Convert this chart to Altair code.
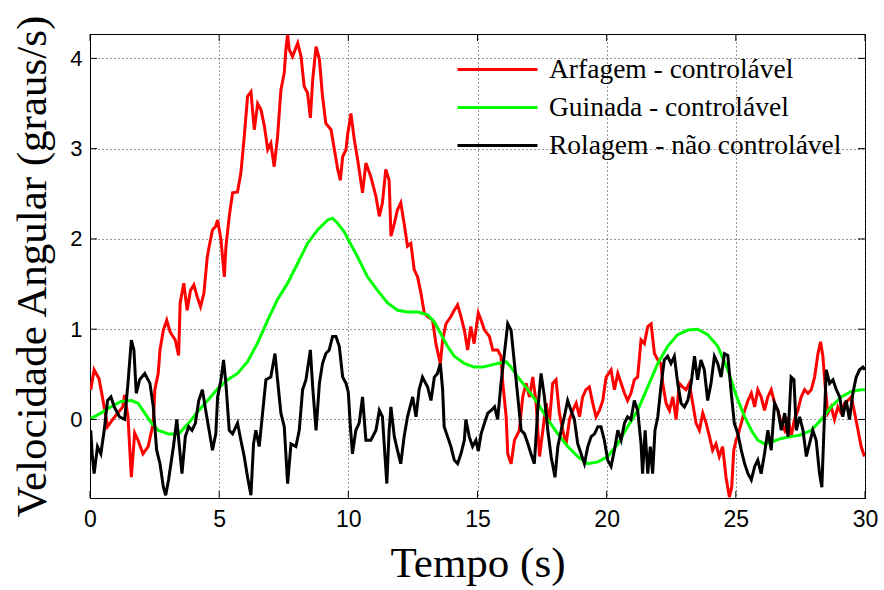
import altair as alt
import pandas as pd

# ---- data ----
serie_names = ["Arfagem - controlável", "Guinada - controlável", "Rolagem - não controlável"]
serie_colors = ["#ff0000", "#00ff00", "#000000"]
x_ticks = [0, 5, 10, 15, 20, 25, 30]
y_ticks = [0, 1, 2, 3, 4]

t_arfagem = [0.03, 0.16, 0.35, 0.48, 0.68, 0.88, 1.07, 1.27, 1.34, 1.47, 1.6, 1.73, 1.86, 2.05, 2.25, 2.45,
             2.51, 2.64, 2.71, 2.84, 2.97, 3.1, 3.3, 3.43, 3.49, 3.63, 3.76, 3.89, 4.02, 4.15, 4.28, 4.41,
             4.54, 4.61, 4.74, 4.87, 4.94, 5.07, 5.2, 5.26, 5.39, 5.52, 5.71, 5.84, 5.97, 6.1, 6.23, 6.36,
             6.49, 6.62, 6.75, 6.88, 7.0, 7.13, 7.26, 7.39, 7.52, 7.59, 7.65, 7.71, 7.84, 8.04, 8.17, 8.29,
             8.42, 8.53, 8.62, 8.75, 8.88, 9.0, 9.13, 9.33, 9.46, 9.59, 9.69, 9.78, 9.91, 9.97, 10.1, 10.23,
             10.36, 10.55, 10.68, 10.87, 11.07, 11.2, 11.32, 11.45, 11.58, 11.65, 11.78, 11.9, 12.03, 12.16,
             12.29, 12.42, 12.55, 12.68, 12.81, 12.94, 13.07, 13.26, 13.39, 13.56, 13.65, 13.78, 13.97, 14.1,
             14.23, 14.36, 14.49, 14.62, 14.74, 14.87, 15.03, 15.14, 15.27, 15.46, 15.59, 15.78, 15.91, 15.98,
             16.11, 16.17, 16.3, 16.43, 16.62, 16.75, 16.88, 17.01, 17.14, 17.27, 17.4, 17.53, 17.66, 17.78,
             17.91, 18.04, 18.17, 18.3, 18.43, 18.56, 18.69, 18.82, 18.95, 19.07, 19.2, 19.33, 19.46, 19.59,
             19.72, 19.85, 19.98, 20.17, 20.3, 20.43, 20.56, 20.69, 20.81, 20.94, 21.07, 21.2, 21.33, 21.46,
             21.59, 21.72, 21.85, 21.98, 22.1, 22.17, 22.3, 22.43, 22.56, 22.69, 22.81, 22.94, 23.07, 23.2,
             23.33, 23.46, 23.59, 23.72, 23.85, 23.98, 24.1, 24.23, 24.36, 24.49, 24.62, 24.75, 24.84, 24.92,
             25.01, 25.1, 25.21, 25.34, 25.47, 25.6, 25.73, 25.85, 25.98, 26.11, 26.24, 26.37, 26.5, 26.63,
             26.76, 26.89, 27.02, 27.14, 27.27, 27.4, 27.53, 27.66, 27.79, 27.92, 28.05, 28.18, 28.28, 28.37,
             28.46, 28.56, 28.69, 28.82, 28.95, 29.08, 29.21, 29.34, 29.47, 29.6, 29.73, 29.85, 29.98]
v_arfagem = [0.33, 0.55, 0.45, 0.25, -0.08, 0.0, 0.07, 0.14, 0.27, 0.03, -0.64, -0.15, -0.23, -0.38, -0.3, -0.04,
             0.33, 0.51, 0.77, 0.99, 1.1, 0.97, 0.88, 0.71, 1.29, 1.51, 1.21, 1.43, 1.49, 1.36, 1.25, 1.4,
             1.8, 1.91, 2.1, 2.14, 2.21, 1.99, 1.58, 1.91, 2.25, 2.51, 2.52, 2.73, 3.13, 3.58, 3.63, 3.21,
             3.5, 3.43, 3.25, 2.99, 3.06, 2.8, 3.13, 3.65, 3.84, 4.13, 4.26, 4.1, 4.02, 4.17, 4.02, 3.69,
             3.62, 3.34, 3.76, 4.13, 3.99, 3.58, 3.28, 3.21, 2.99, 2.77, 2.65, 2.91, 2.99, 3.15, 3.39, 3.1,
             2.88, 2.51, 2.84, 2.69, 2.47, 2.25, 2.4, 2.77, 2.65, 2.03, 2.17, 2.32, 2.4, 2.17,
             1.92, 1.95, 1.66, 1.58, 1.4, 1.18, 1.14, 1.1, 0.84, 0.62, 0.88, 1.06, 1.14, 1.21,
             1.27, 1.14, 0.99, 0.77, 1.03, 0.84, 1.18, 1.1, 0.99, 0.92, 0.77, 0.77, 0.7, 0.4,
             0.03, -0.38, -0.49, -0.23, -0.12, 0.25, 0.4, 0.25, 0.47, 0.18, -0.41, -0.12, 0.18, -0.04,
             0.4, 0.44, 0.07, -0.12, -0.27, 0.0, 0.1, 0.18, 0.03, 0.25, 0.33, 0.36, 0.18, 0.03,
             0.1, 0.21, 0.47, 0.55, 0.33, 0.51, 0.4, 0.29, 0.21, 0.29, 0.44, 0.47, 0.88, 0.84,
             1.03, 1.06, 0.73, 0.66, 0.62, 0.4, 0.18, 0.1, 0.25, 0.0, 0.4, 0.36, 0.33, 0.4,
             0.18, -0.04, -0.12, 0.07, -0.04, -0.19, -0.34, -0.27, -0.41, -0.3, -0.64, -0.86, -0.75, -0.34,
             -0.23, -0.16, -0.04, 0.1, 0.21, 0.29, 0.14, 0.33, 0.25, 0.1, 0.25, 0.33, 0.18, 0.1,
             -0.04, -0.12, 0.03, -0.19, 0.0, 0.1, 0.25, 0.33, 0.29, 0.33, 0.47, 0.73, 0.86, 0.7,
             0.36, 0.07, 0.14, 0.0, 0.14, 0.07, 0.18, 0.21, 0.25, 0.07, -0.12, -0.3, -0.41]

t_guinada = [0.03, 0.42, 0.81, 1.2, 1.6, 1.86, 2.12, 2.38, 2.64, 3.04, 3.43, 3.82, 4.21, 4.61, 4.94, 5.33,
             5.71, 6.1, 6.49, 6.88, 7.26, 7.65, 8.04, 8.42, 8.81, 9.2, 9.39, 9.59, 9.84, 10.0, 10.36, 10.74,
             11.13, 11.52, 11.91, 12.29, 12.68, 13.07, 13.33, 13.58, 13.84, 14.1, 14.49, 14.87, 15.2, 15.78,
             16.11, 16.3, 16.56, 16.95, 17.33, 17.72, 18.11, 18.49, 18.88, 19.27, 19.66, 20.04, 20.43, 20.81,
             21.2, 21.59, 21.98, 22.36, 22.75, 23.14, 23.52, 23.91, 24.3, 24.69, 24.94, 25.1, 25.34, 25.6,
             25.85, 26.11, 26.37, 26.76, 27.14, 27.53, 27.92, 28.31, 28.69, 29.08, 29.47, 29.85, 30.0]
v_guinada = [0.01, 0.07, 0.14, 0.2, 0.21, 0.18, 0.07, -0.04, -0.12, -0.16, -0.16, -0.04, 0.1, 0.23, 0.34, 0.44,
             0.51, 0.64, 0.85, 1.1, 1.33, 1.51, 1.73, 1.95, 2.1, 2.21, 2.23, 2.17, 2.08, 1.99, 1.8, 1.58,
             1.43, 1.29, 1.21, 1.19, 1.19, 1.16, 1.08, 0.95, 0.81, 0.7, 0.62, 0.58, 0.58, 0.62,
             0.64, 0.58, 0.47, 0.33, 0.18, 0.0, -0.16, -0.3, -0.41, -0.49, -0.47, -0.41, -0.27, -0.08,
             0.1, 0.36, 0.62, 0.81, 0.94, 0.99, 1.0, 0.94, 0.81, 0.55, 0.33, 0.2, 0.03, -0.12,
             -0.23, -0.27, -0.25, -0.21, -0.19, -0.17, -0.12, 0.0, 0.14, 0.25, 0.31, 0.33, 0.33]

t_rolagem = [0.03, 0.09, 0.16, 0.29, 0.42, 0.55, 0.68, 0.81, 0.94, 1.14, 1.34, 1.47, 1.6, 1.7, 1.79, 1.92,
             2.12, 2.32, 2.45, 2.58, 2.71, 2.84, 2.93, 3.04, 3.23, 3.36, 3.46, 3.56, 3.69, 3.82, 3.95, 4.08,
             4.21, 4.35, 4.48, 4.61, 4.74, 4.87, 4.94, 5.07, 5.17, 5.26, 5.39, 5.52, 5.71, 5.84, 5.97, 6.1,
             6.23, 6.33, 6.42, 6.55, 6.68, 6.81, 7.0, 7.16, 7.26, 7.39, 7.52, 7.65, 7.78, 7.97, 8.1, 8.23,
             8.36, 8.53, 8.62, 8.75, 8.88, 9.0, 9.13, 9.26, 9.39, 9.52, 9.65, 9.78, 9.91, 10.0, 10.07, 10.16,
             10.29, 10.42, 10.55, 10.68, 10.87, 11.07, 11.2, 11.32, 11.42, 11.49, 11.58, 11.65, 11.78, 11.9,
             12.03, 12.16, 12.29, 12.49, 12.62, 12.74, 12.87, 13.07, 13.2, 13.33, 13.45, 13.56, 13.65, 13.71,
             13.84, 13.97, 14.1, 14.23, 14.36, 14.49, 14.55, 14.68, 14.81, 14.94, 15.03, 15.14, 15.27, 15.4,
             15.53, 15.66, 15.78, 15.91, 16.04, 16.17, 16.3, 16.43, 16.56, 16.69, 16.82, 16.95, 17.07, 17.2,
             17.33, 17.46, 17.59, 17.72, 17.85, 18.0, 18.11, 18.24, 18.36, 18.49, 18.62, 18.75, 18.88, 19.01,
             19.14, 19.27, 19.4, 19.53, 19.66, 19.78, 19.91, 20.04, 20.17, 20.3, 20.43, 20.56, 20.69, 20.81,
             20.94, 21.07, 21.2, 21.33, 21.39, 21.49, 21.59, 21.69, 21.78, 21.87, 21.98, 22.1, 22.23, 22.36,
             22.49, 22.62, 22.75, 22.88, 23.01, 23.14, 23.27, 23.4, 23.52, 23.65, 23.78, 23.91, 24.04, 24.17,
             24.3, 24.43, 24.56, 24.69, 24.81, 24.94, 25.08, 25.21, 25.34, 25.47, 25.6, 25.73, 25.85, 25.98,
             26.11, 26.24, 26.37, 26.5, 26.63, 26.76, 26.89, 27.02, 27.14, 27.25, 27.34, 27.47, 27.6, 27.73,
             27.85, 27.98, 28.11, 28.24, 28.33, 28.41, 28.5, 28.63, 28.76, 28.89, 29.02, 29.14, 29.27, 29.4,
             29.53, 29.66, 29.79, 29.92, 30.0]
v_rolagem = [-0.12, -0.41, -0.6, -0.3, -0.38, -0.12, 0.21, 0.25, 0.14, 0.03, 0.0, 0.4, 0.88, 0.77, 0.29, 0.44,
             0.51, 0.4, 0.14, -0.34, -0.49, -0.75, -0.84, -0.67, -0.3, 0.0, -0.3, -0.6, -0.19, -0.08, -0.12, -0.04,
             0.21, 0.33, 0.1, -0.12, -0.34, -0.16, 0.25, 0.44, 0.66, 0.4, -0.12, -0.16, -0.04, -0.23, -0.41, -0.64,
             -0.84, -0.27, -0.12, -0.3, 0.07, 0.44, 0.47, 0.73, 0.44, 0.07, -0.08, -0.71, -0.27, -0.3, -0.12, 0.33,
             0.44, 0.77, 0.36, -0.12, 0.4, 0.62, 0.73, 0.77, 0.92, 0.92, 0.81, 0.47, 0.4, 0.3, -0.04, -0.38,
             -0.12, -0.04, 0.25, -0.23, -0.23, -0.12, 0.1, 0.03, -0.41, -0.71, -0.12, 0.14, -0.19, -0.34,
             -0.49, -0.19, 0.03, 0.25, 0.03, 0.33, 0.47, 0.36, 0.21, 0.47, 0.51, 0.62, 0.33, -0.08,
             -0.19, -0.3, -0.45, -0.49, -0.38, -0.23, 0.0, -0.19, -0.3, -0.23, -0.35, -0.16, -0.04, 0.07,
             0.1, 0.14, 0.0, 0.4, 0.73, 1.06, 0.99, 0.62, 0.25, -0.12, -0.16, -0.27, -0.38, -0.49,
             0.1, 0.51, 0.25, -0.12, -0.41, -0.64, -0.3, -0.12, 0.03, 0.21, 0.1, 0.0, -0.27, -0.38,
             -0.49, -0.3, -0.19, -0.16, -0.08, -0.08, -0.23, -0.45, -0.52, -0.34, -0.12, -0.23, -0.04, 0.03,
             0.0, 0.21, 0.1, -0.27, -0.6, -0.12, -0.6, -0.3, -0.6, -0.12, 0.03, 0.36, 0.66, 0.7,
             0.62, 0.7, 0.4, 0.18, 0.14, 0.21, 0.4, 0.7, 0.44, 0.66, 0.55, 0.21, 0.4, 0.7,
             0.62, 0.47, 0.73, 0.71, 0.33, -0.04, -0.16, -0.34, -0.49, -0.6, -0.67, -0.52, -0.45, -0.6,
             -0.38, -0.12, -0.34, 0.18, 0.1, -0.12, 0.07, -0.19, 0.47, 0.44, -0.12, 0.03, -0.12, -0.41,
             -0.27, -0.12, -0.23, -0.6, -0.75, -0.12, 0.55, 0.4, 0.44, 0.33, 0.25, 0.03, 0.21, 0.0,
             0.29, 0.47, 0.55, 0.58, 0.55]

# ---- build the table ----
rows = []
for name, ts, vs in zip(serie_names, [t_arfagem, t_guinada, t_rolagem], [v_arfagem, v_guinada, v_rolagem]):
    for t, v in zip(ts, vs):
        rows.append({"t": t, "v": v, "serie": name})
df = pd.DataFrame(rows)

W, H = 775, 464
xs = alt.Scale(domain=[0, 30], nice=False, zero=False)
ys = alt.Scale(domain=[-0.87, 4.27], nice=False, zero=False)
cs = alt.Scale(domain=serie_names, range=serie_colors)

x_axis = alt.Axis(values=x_ticks, title="Tempo (s)", tickSize=0, labelPadding=10, labelFlush=False,
                  labelOverlap=False, labelFont="Liberation Sans", labelFontSize=23, labelColor="black",
                  domainColor="black", titleFont="Liberation Serif", titleFontSize=43,
                  titleFontWeight="normal", titleColor="black", titleBaseline="alphabetic",
                  titleX=W / 2, titleY=78, grid=True, gridColor="#333333", gridDash=[1, 3],
                  gridWidth=1)
y_axis = alt.Axis(values=y_ticks, title="Velocidade Angular (graus/s)", tickSize=0, labelPadding=8,
                  labelFlush=False, labelOverlap=False, labelFont="Liberation Sans", labelFontSize=22,
                  labelColor="black", domainColor="black", titleFont="Liberation Serif",
                  titleFontSize=43, titleFontWeight="normal", titleColor="black", titleAngle=270,
                  titleBaseline="alphabetic", titleAlign="center", titleX=-45, titleY=H / 2,
                  grid=True, gridColor="#333333", gridDash=[1, 3], gridWidth=1)

legend = alt.Legend(title=None, orient="none", legendX=366, legendY=22, symbolType="stroke",
                    symbolSize=6400, symbolStrokeWidth=3, clipHeight=27, rowPadding=10,
                    labelOffset=10, labelFont="Liberation Serif", labelFontSize=27.5,
                    labelColor="black", labelLimit=0, padding=0)

layers = []
for i, name in enumerate(serie_names):
    layers.append(
        alt.Chart(df).transform_filter(alt.datum.serie == name).mark_line(strokeWidth=3, clip=True).encode(
            x=alt.X("t:Q", scale=xs, axis=x_axis),
            y=alt.Y("v:Q", scale=ys, axis=y_axis),
            color=alt.Color("serie:N", scale=cs, legend=legend),
            order=alt.Order("t:Q"),
        )
    )

xt = pd.DataFrame({"t": x_ticks})
yt = pd.DataFrame({"v": y_ticks})
tick_top = alt.Chart(xt).mark_rule(color="black", strokeWidth=1).encode(
    x=alt.X("t:Q", scale=xs, axis=x_axis), y=alt.value(0), y2=alt.value(7))
tick_bot = alt.Chart(xt).mark_rule(color="black", strokeWidth=1).encode(
    x=alt.X("t:Q", scale=xs, axis=x_axis), y=alt.value(H), y2=alt.value(H - 7))
tick_left = alt.Chart(yt).mark_rule(color="black", strokeWidth=1).encode(
    y=alt.Y("v:Q", scale=ys, axis=y_axis), x=alt.value(0), x2=alt.value(7))
tick_right = alt.Chart(yt).mark_rule(color="black", strokeWidth=1).encode(
    y=alt.Y("v:Q", scale=ys, axis=y_axis), x=alt.value(W), x2=alt.value(W - 7))

chart = alt.layer(*layers, tick_top, tick_bot, tick_left, tick_right).properties(
    width=W, height=H,
    autosize=alt.AutoSizeParams(type="none"),
    padding={"left": 90, "top": 34, "right": 19, "bottom": 92},
    background="white",
).configure_view(stroke="black", strokeWidth=1)

chart.save("out.html", embed_options={"renderer": "svg", "actions": False})
